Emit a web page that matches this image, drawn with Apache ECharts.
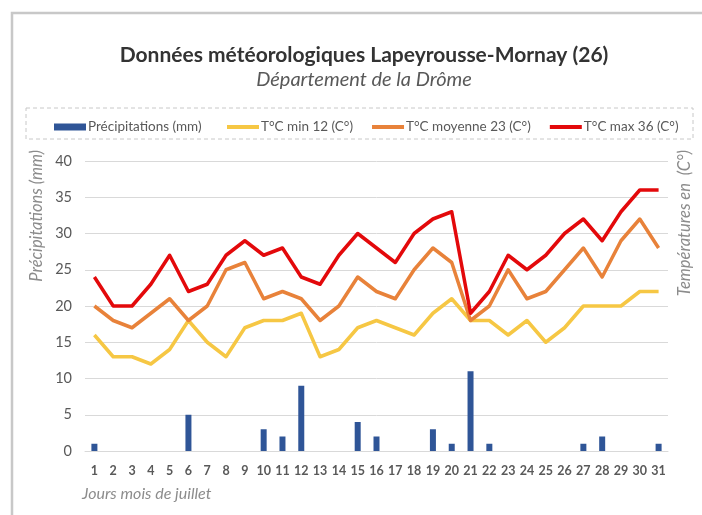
<!DOCTYPE html>
<html>
<head>
<meta charset="utf-8">
<script src="https://cdn.jsdelivr.net/npm/echarts@6/dist/echarts.min.js"></script>
<style>
  html, body { margin: 0; padding: 0; background: #fff; }
  #main { width: 702px; height: 515px; }
</style>
</head>
<body>
<div id="main"></div>
<script>
// jours du mois de juillet
const days = ['1','2','3','4','5','6','7','8','9','10','11','12','13','14','15','16',
  '17','18','19','20','21','22','23','24','25','26','27','28','29','30','31'];

const precip = [1,0,0,0,0,5,0,0,0,3,2,9,0,0,4,2,0,0,3,1,11,1,0,0,0,0,1,2,0,0,1];
const tMin   = [16,13,13,12,14,18,15,13,17,18,18,19,13,14,17,18,17,16,19,21,18,18,16,18,15,17,20,20,20,22,22];
const tMoy   = [20,18,17,19,21,18,20,25,26,21,22,21,18,20,24,22,21,25,28,26,18,20,25,21,22,25,28,24,29,32,28];
const tMax   = [24,20,20,23,27,22,23,27,29,27,28,24,23,27,30,28,26,30,32,33,19,22,27,25,27,30,32,29,33,36,36];

const names = ['Précipitations (mm)', 'T°C min 12 (C°)', 'T°C moyenne 23 (C°)', 'T°C max 36 (C°)'];

const font = 'Lato';
const grey = '#595959';

const chart = echarts.init(document.getElementById('main'));

function lineSerie(name, data, color) {
  return {
    name: name,
    type: 'line',
    data: data,
    symbol: 'none',
    itemStyle: { color: color },
    lineStyle: { color: color, width: 3.5, join: 'round' }
  };
}

chart.setOption({
  animation: false,
  textStyle: { fontFamily: font },
  title: {
    text: 'Données météorologiques Lapeyrousse-Mornay (26)',
    subtext: 'Département de la Drôme',
    left: 359,
    top: 40,
    textAlign: 'center',
    itemGap: 4,
    textStyle: { fontFamily: font, fontSize: 21, fontWeight: 'bold', color: '#333' },
    subtextStyle: { fontFamily: font, fontSize: 20, fontStyle: 'italic', color: grey }
  },
  legend: [{
    data: [names[0]],
    left: 49,
    top: 115,
    itemWidth: 32,
    itemHeight: 7,
    icon: 'rect',
    textStyle: { fontFamily: font, fontSize: 13.5, color: grey, padding: [0, 0, 0, -3] }
  }, {
    data: names.slice(1),
    left: 222,
    top: 115,
    itemWidth: 32,
    itemHeight: 4,
    itemGap: 19,
    icon: 'rect',
    textStyle: { fontFamily: font, fontSize: 13.5, color: grey, padding: [0, 0, 0, -3] }
  }],
  grid: { left: 85, right: 34, top: 161, bottom: 64 },
  xAxis: {
    type: 'category',
    data: days,
    axisLine: { show: true, lineStyle: { color: '#d9d9d9' } },
    axisTick: { show: false },
    axisLabel: { fontFamily: font, fontSize: 12.5, fontWeight: 'bold', color: grey, margin: 13, interval: 0 }
  },
  yAxis: {
    type: 'value',
    min: 0,
    max: 40,
    interval: 5,
    axisLine: { show: false },
    axisTick: { show: false },
    splitLine: { lineStyle: { color: '#d9d9d9' } },
    axisLabel: { fontFamily: font, fontSize: 14.5, color: grey, margin: 13 }
  },
  graphic: [
    { type: 'rect', shape: { x: 12, y: 13, width: 720, height: 540 },
      style: { fill: 'none', stroke: '#c8c8c8', lineWidth: 2.5 }, silent: true },
    { type: 'rect', shape: { x: 26, y: 108, width: 667, height: 31 },
      style: { fill: 'none', stroke: '#c8c8c8', lineWidth: 1, lineDash: [4, 3] }, silent: true },
    { type: 'text', x: 37, y: 150, rotation: Math.PI / 2,
      style: { text: 'Précipitations (mm)', fontFamily: font, fontSize: 16.5, fontStyle: 'italic',
        fill: '#8c8c8c', align: 'right', verticalAlign: 'middle' } },
    { type: 'text', x: 685, y: 150, rotation: Math.PI / 2,
      style: { text: 'Températures en  (C°)', fontFamily: font, fontSize: 16.5, fontStyle: 'italic',
        fill: '#8c8c8c', align: 'right', verticalAlign: 'middle' } },
    { type: 'text', x: 82, y: 494,
      style: { text: 'Jours mois de juillet', fontFamily: font, fontSize: 16, fontStyle: 'italic',
        fill: '#8c8c8c', align: 'left', verticalAlign: 'middle' } }
  ],
  series: [
    { name: names[0], type: 'bar', data: precip, barWidth: 6, itemStyle: { color: '#2F5597' } },
    lineSerie(names[1], tMin, '#F6C744'),
    lineSerie(names[2], tMoy, '#E8823A'),
    lineSerie(names[3], tMax, '#E3090B')
  ]
});
</script>
</body>
</html>
